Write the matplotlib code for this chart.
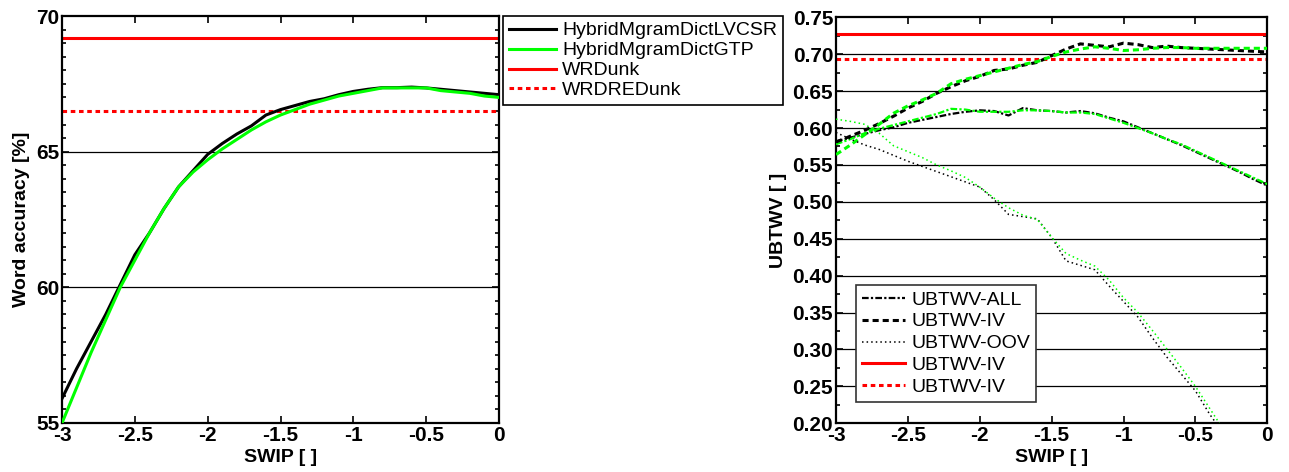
import numpy as np
import matplotlib
matplotlib.use('Agg')
import matplotlib.pyplot as plt
from matplotlib.ticker import MultipleLocator

plt.rcParams['font.family'] = ['Liberation Sans', 'DejaVu Sans']

# SWIP values (shared x for both panels)
swip = np.round(np.arange(-3.0, 0.01, 0.1), 1)

# Left panel: word accuracy [%]
acc_lvcsr = [55.9, 57.0, 58.0, 59.0, 60.1, 61.2, 62.0, 62.9, 63.7, 64.3,
             64.9, 65.3, 65.65, 65.95, 66.35, 66.55, 66.7, 66.85, 66.95, 67.1,
             67.22, 67.3, 67.36, 67.36, 67.38, 67.35, 67.3, 67.25, 67.2, 67.15, 67.1]
acc_gtp = [55.0, 56.3, 57.6, 58.8, 60.0, 61.0, 62.0, 62.9, 63.7, 64.25,
           64.7, 65.1, 65.45, 65.8, 66.1, 66.35, 66.55, 66.75, 66.9, 67.05,
           67.15, 67.25, 67.35, 67.35, 67.35, 67.35, 67.25, 67.2, 67.15, 67.05, 67.0]
acc_wrdunk = 69.2
acc_wrdredunk = 66.5

# Right panel: UBTWV
ub_all_k = [0.582, 0.587, 0.592, 0.597, 0.601, 0.607, 0.611, 0.615, 0.619, 0.622,
            0.624, 0.623, 0.617, 0.627, 0.624, 0.623, 0.621, 0.623, 0.620, 0.614,
            0.609, 0.601, 0.593, 0.585, 0.577, 0.568, 0.559, 0.550, 0.541, 0.531, 0.522]
ub_all_g = [0.578, 0.585, 0.593, 0.599, 0.604, 0.609, 0.614, 0.619, 0.626, 0.625,
            0.622, 0.622, 0.622, 0.624, 0.624, 0.623, 0.621, 0.621, 0.619, 0.613,
            0.607, 0.600, 0.593, 0.585, 0.578, 0.569, 0.560, 0.551, 0.542, 0.533, 0.524]
ub_iv_k = [0.581, 0.589, 0.597, 0.606, 0.616, 0.627, 0.636, 0.647, 0.656, 0.664,
           0.670, 0.678, 0.680, 0.685, 0.689, 0.698, 0.707, 0.714, 0.712, 0.710,
           0.715, 0.713, 0.709, 0.711, 0.709, 0.708, 0.707, 0.706, 0.705, 0.704, 0.703]
ub_iv_g = [0.564, 0.577, 0.591, 0.605, 0.620, 0.630, 0.638, 0.647, 0.660, 0.666,
           0.671, 0.676, 0.681, 0.686, 0.690, 0.697, 0.703, 0.707, 0.710, 0.708,
           0.705, 0.706, 0.708, 0.709, 0.709, 0.708, 0.708, 0.708, 0.708, 0.708, 0.708]
ub_oov_k = [0.594, 0.585, 0.577, 0.571, 0.563, 0.555, 0.548, 0.541, 0.534, 0.527,
            0.520, 0.503, 0.483, 0.480, 0.477, 0.452, 0.420, 0.414, 0.408, 0.386,
            0.365, 0.344, 0.316, 0.290, 0.267, 0.244, 0.212, 0.185, np.nan, np.nan, np.nan]
ub_oov_g = [0.612, 0.609, 0.605, 0.593, 0.576, 0.568, 0.560, 0.550, 0.542, 0.533,
            0.520, 0.505, 0.492, 0.482, 0.476, 0.452, 0.430, 0.421, 0.413, 0.394,
            0.370, 0.350, 0.326, 0.301, 0.276, 0.250, 0.220, 0.190, np.nan, np.nan, np.nan]
ub_ref_solid = 0.727
ub_ref_dotted = 0.6935

x_ticks = [-3, -2.5, -2, -1.5, -1, -0.5, 0]
x_ticklabels = ['-3', '-2.5', '-2', '-1.5', '-1', '-0.5', '0']

GREEN = '#00ff00'
RED = '#ff0000'
LS_ALL = (0, (3, 1, 1, 1))
LS_IV = (0, (2, 1.3))
LS_OOV = (0, (1, 2))
LS_RED = (0, (1.5, 1.2))

W, H = 1289, 472
fig = plt.figure(figsize=(W / 100, H / 100), dpi=100)

ax1 = fig.add_axes([62 / W, 1 - 423 / H, (499 - 62) / W, (423 - 16) / H])
ax2 = fig.add_axes([836 / W, 1 - 423.3 / H, (1267.3 - 836) / W, (423.3 - 17.3) / H])


def style_axes(ax):
    ax.tick_params(which='both', direction='in', top=True, right=True,
                   labelsize=15, width=1.2, pad=2)
    ax.tick_params(which='major', length=5)
    ax.tick_params(which='minor', length=3)
    for s in ax.spines.values():
        s.set_linewidth(1.6)
    ax.set_xlim(-3, 0)
    ax.set_xticks(x_ticks)
    ax.set_xticklabels(x_ticklabels, fontweight='bold')
    ax.set_xlabel('SWIP [ ]', fontsize=14, fontweight='bold', labelpad=3)


# ---- left panel ----
ax1.set_ylim(55, 70)
for g in [60, 65]:
    ax1.axhline(g, color='black', lw=0.9, zorder=1)
l1, = ax1.plot(swip, acc_lvcsr, color='black', lw=2.2, label='HybridMgramDictLVCSR', zorder=3)
l2, = ax1.plot(swip, acc_gtp, color=GREEN, lw=2.2, label='HybridMgramDictGTP', zorder=4)
l3 = ax1.axhline(acc_wrdunk, color=RED, lw=2.2, label='WRDunk')
l4 = ax1.axhline(acc_wrdredunk, color=RED, lw=2.2, ls=LS_RED, label='WRDREDunk')
ax1.set_ylabel('Word accuracy [%]', fontsize=14, fontweight='bold', labelpad=4)
style_axes(ax1)
ax1.set_yticks([55, 60, 65, 70])
ax1.set_yticklabels(['55', '60', '65', '70'], fontweight='bold')
ax1.yaxis.set_minor_locator(MultipleLocator(0.5))

leg1 = fig.legend(handles=[l1, l2, l3, l4], loc='upper left',
                  bbox_to_anchor=(503 / W, 1 - 16 / H), bbox_transform=fig.transFigure,
                  fontsize=14, frameon=True, fancybox=False, edgecolor='black',
                  framealpha=1, handlelength=2.4, handletextpad=0.35, labelspacing=0.12,
                  borderpad=0.3, borderaxespad=0)
leg1.get_frame().set_linewidth(1.2)

# ---- right panel ----
ax2.set_ylim(0.20, 0.75)
for g in np.arange(0.25, 0.701, 0.05):
    ax2.axhline(g, color='black', lw=0.9, zorder=1)
ax2.plot(swip, ub_all_k, color='black', lw=1.6, ls=LS_ALL, zorder=3)
ax2.plot(swip, ub_all_g, color=GREEN, lw=1.6, ls=LS_ALL, zorder=3)
ax2.plot(swip, ub_iv_k, color='black', lw=2.2, ls=LS_IV, zorder=3)
ax2.plot(swip, ub_iv_g, color=GREEN, lw=2.2, ls=LS_IV, zorder=3)
ax2.plot(swip, ub_oov_k, color='black', lw=1.1, ls=LS_OOV, zorder=3)
ax2.plot(swip, ub_oov_g, color=GREEN, lw=1.1, ls=LS_OOV, zorder=3)
ax2.axhline(ub_ref_solid, color=RED, lw=2.2)
ax2.axhline(ub_ref_dotted, color=RED, lw=2.2, ls=LS_RED)
ax2.set_ylabel('UBTWV [ ]', fontsize=14, fontweight='bold', labelpad=4)
style_axes(ax2)
yt = np.arange(0.20, 0.751, 0.05)
ax2.set_yticks(yt)
ax2.set_yticklabels([f'{v:.2f}' for v in yt], fontweight='bold')
ax2.yaxis.set_minor_locator(MultipleLocator(0.025))

h_all, = ax2.plot([], [], color='black', lw=1.6, ls=LS_ALL, label='UBTWV-ALL')
h_iv, = ax2.plot([], [], color='black', lw=2.2, ls=LS_IV, label='UBTWV-IV')
h_oov, = ax2.plot([], [], color='black', lw=1.1, ls=LS_OOV, label='UBTWV-OOV')
h_r1, = ax2.plot([], [], color=RED, lw=2.2, label='UBTWV-IV')
h_r2, = ax2.plot([], [], color=RED, lw=2.2, ls=LS_RED, label='UBTWV-IV')
leg2 = ax2.legend(handles=[h_all, h_iv, h_oov, h_r1, h_r2], loc='lower left',
                  bbox_to_anchor=(856 / W, 1 - 402 / H), bbox_transform=fig.transFigure,
                  fontsize=14, frameon=True, fancybox=False, edgecolor='#333333',
                  framealpha=1, handlelength=2.2, handletextpad=0.35, labelspacing=0.22,
                  borderpad=0.3, borderaxespad=0)
leg2.get_frame().set_linewidth(1.2)

fig.savefig('out.png', dpi=100)
